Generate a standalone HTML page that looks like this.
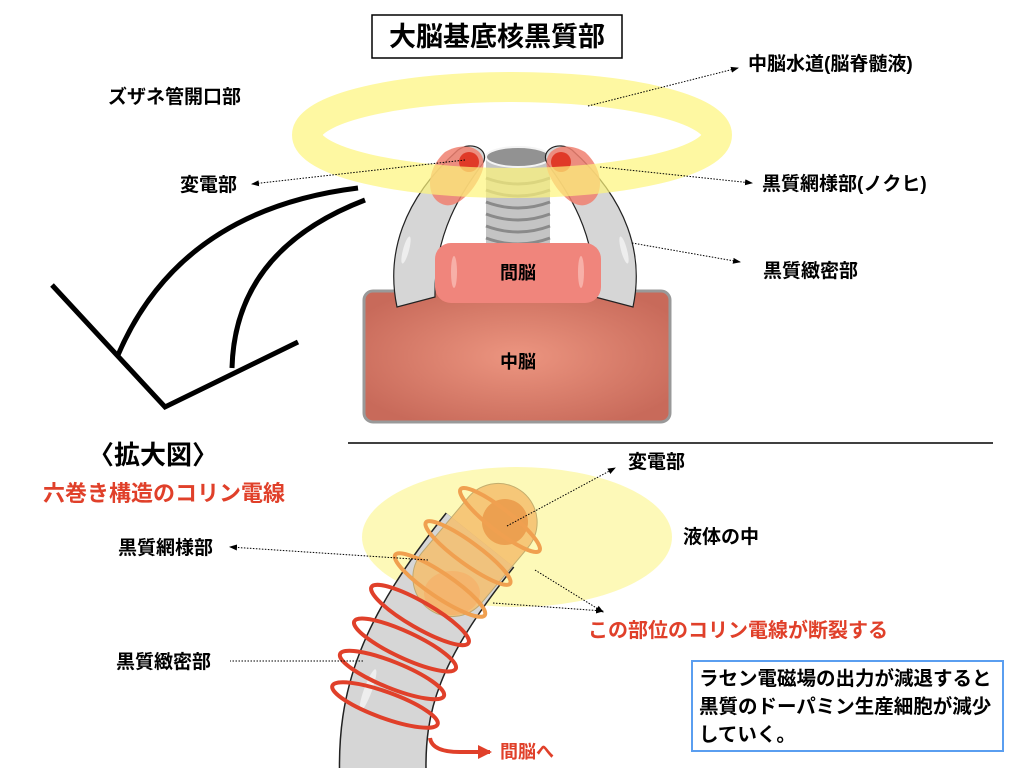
<!DOCTYPE html>
<html><head><meta charset="utf-8"><style>
html,body{margin:0;padding:0;background:#fff;}
svg{display:block;}
text{font-family:"Liberation Sans","Noto Sans CJK JP",sans-serif;font-weight:bold;}
</style></head><body>
<svg width="1024" height="768" viewBox="0 0 1024 768" xmlns="http://www.w3.org/2000/svg">
<defs>
<radialGradient id="mid" cx="50%" cy="50%" r="60%"><stop offset="0" stop-color="#ec9580"/><stop offset="1" stop-color="#c86a5a"/></radialGradient>
<marker id="ar" markerWidth="8" markerHeight="8" refX="7" refY="4" orient="auto" markerUnits="userSpaceOnUse"><path d="M0,1 L8,4 L0,7 z" fill="#000"/></marker>
<marker id="ar2" markerWidth="14" markerHeight="14" refX="12" refY="7" orient="auto" markerUnits="userSpaceOnUse"><path d="M0,0 L14,7 L0,14 z" fill="#e0402a"/></marker>
<g id="arm">
<path d="M397,307 C386,255 402,200 458,150 C472,140 490,150 483,163 C462,192 434,232 435,297 Z" fill="#d6d6d6" stroke="#222" stroke-width="1.2"/>
<path d="M445,152 C465,140 490,148 482,172 C475,190 458,208 445,205 C425,200 425,170 445,152 Z" fill="#f08070" opacity="0.85"/>
<circle cx="469" cy="162" r="10" fill="#e03a28"/>
<ellipse cx="406" cy="250" rx="3" ry="14" fill="#eee" transform="rotate(15 406 250)"/>
</g>
</defs>

<rect x="372" y="15" width="250" height="43" fill="#fff" stroke="#000" stroke-width="1.5"/>
<text x="497" y="46" font-size="27" text-anchor="middle">大脳基底核黒質部</text>

<rect x="364" y="291" width="306" height="131" rx="9" fill="url(#mid)" stroke="#999" stroke-width="3"/>
<text x="518" y="368" font-size="18" text-anchor="middle">中脳</text>

<rect x="486" y="157" width="64" height="90" fill="#c4c4c4"/>
<g stroke="#8a8a8a" stroke-width="3" fill="none">
<path d="M486,178 Q518,190 550,178"/><path d="M486,190 Q518,202 550,190"/><path d="M486,202 Q518,214 550,202"/><path d="M486,214 Q518,226 550,214"/><path d="M486,226 Q518,238 550,226"/><path d="M486,238 Q518,250 550,238"/>
</g>
<ellipse cx="518" cy="157" rx="32" ry="10" fill="#929292" stroke="#f4f4f4" stroke-width="2"/>

<use href="#arm"/>
<use href="#arm" transform="translate(1030,0) scale(-1,1)"/>

<rect x="435" y="243" width="166" height="60" rx="16" fill="#f0857c"/>
<ellipse cx="454" cy="272" rx="3" ry="16" fill="#f7b0a8"/>
<ellipse cx="581" cy="272" rx="3" ry="16" fill="#f7b0a8"/>
<text x="518" y="279" font-size="18" text-anchor="middle">間脳</text>

<ellipse cx="512" cy="135" rx="205" ry="48" fill="none" stroke="#fdf57a" stroke-opacity="0.7" stroke-width="30"/>

<g stroke="#000" stroke-width="5" fill="none">
<polyline points="52,285 165,407 298,342"/>
<path d="M118,355 Q180,210 358,188"/>
<path d="M232,368 Q235,250 365,200"/>
</g>

<text x="108" y="103" font-size="19">ズザネ管開口部</text>
<text x="180" y="191" font-size="19">変電部</text>
<text x="748" y="70" font-size="19">中脳水道(脳脊髄液)</text>
<text x="762" y="190" font-size="19">黒質網様部(ノクヒ)</text>
<text x="763" y="277" font-size="19">黒質緻密部</text>
<g stroke="#000" stroke-width="1" stroke-dasharray="1.5,1.5" fill="none">
<line x1="588" y1="106" x2="738" y2="68" marker-end="url(#ar)"/>
<line x1="465" y1="160" x2="252" y2="184" marker-end="url(#ar)"/>
<line x1="600" y1="167" x2="752" y2="183" marker-end="url(#ar)"/>
<line x1="632" y1="243" x2="740" y2="262" marker-end="url(#ar)"/>
</g>

<line x1="348" y1="443" x2="993" y2="443" stroke="#000" stroke-width="1.5"/>
<text x="88" y="464" font-size="26">〈拡大図〉</text>
<text x="43" y="501" font-size="22" fill="#e0402a">六巻き構造のコリン電線</text>

<ellipse cx="517" cy="537" rx="155" ry="70" fill="#fdf8b0" opacity="0.9"/>
<path d="M383,780 C380,700 400,640 480,540" fill="none" stroke="#222" stroke-width="88"/>
<path d="M383,780 C380,700 400,640 480,540" fill="none" stroke="#d6d6d6" stroke-width="85"/>
<ellipse cx="368" cy="690" rx="4" ry="22" fill="#eee" transform="rotate(20 368 690)"/>
<ellipse cx="452" cy="593" rx="28" ry="22" fill="#f08070"/>
<g transform="rotate(-50 475 550)">
<rect x="400" y="511" width="150" height="78" rx="39" fill="#f5bf6e" opacity="0.85" stroke="#b9a060" stroke-width="1"/>
</g>
<circle cx="505" cy="522" r="23" fill="#eca050"/>
<g fill="none" stroke-width="4">
<g stroke="#f0a050">
<ellipse cx="500" cy="520" rx="50" ry="11" transform="rotate(38 500 520)"/>
<ellipse cx="468" cy="553" rx="52" ry="11" transform="rotate(36 468 553)"/>
<ellipse cx="440" cy="585" rx="54" ry="12" transform="rotate(34 440 585)"/>
</g>
<g stroke="#e0402a">
<ellipse cx="420" cy="615" rx="56" ry="13" transform="rotate(30 420 615)"/>
<ellipse cx="405" cy="645" rx="56" ry="13" transform="rotate(25 405 645)"/>
<ellipse cx="392" cy="675" rx="56" ry="13" transform="rotate(22 392 675)"/>
<ellipse cx="385" cy="705" rx="56" ry="13" transform="rotate(20 385 705)"/>
</g>
</g>
<path d="M430,738 Q432,752 460,752 L490,752" fill="none" stroke="#e0402a" stroke-width="4" marker-end="url(#ar2)"/>
<text x="500" y="758" font-size="18" fill="#e0402a">間脳へ</text>

<g stroke="#000" stroke-width="1" stroke-dasharray="1.5,1.5" fill="none">
<line x1="507" y1="526" x2="615" y2="468" marker-end="url(#ar)"/>
<line x1="428" y1="560" x2="230" y2="547" marker-end="url(#ar)"/>
<line x1="535" y1="570" x2="603" y2="612" marker-end="url(#ar)"/>
<line x1="493" y1="603" x2="603" y2="611" marker-end="url(#ar)"/>
<line x1="363" y1="661" x2="230" y2="661"/>
</g>
<text x="628" y="468" font-size="19">変電部</text>
<text x="683" y="543" font-size="19">液体の中</text>
<text x="118" y="554" font-size="19">黒質網様部</text>
<text x="116" y="668" font-size="19">黒質緻密部</text>
<text x="588" y="637" font-size="20" fill="#e0402a">この部位のコリン電線が断裂する</text>

<rect x="692" y="661" width="311" height="90" fill="#fff" stroke="#5a9ef0" stroke-width="2"/>
<text x="699" y="685" font-size="19.5">ラセン電磁場の出力が減退すると</text>
<text x="699" y="713" font-size="19.5">黒質のドーパミン生産細胞が減少</text>
<text x="699" y="741" font-size="19.5">していく。</text>
</svg>
</body></html>
